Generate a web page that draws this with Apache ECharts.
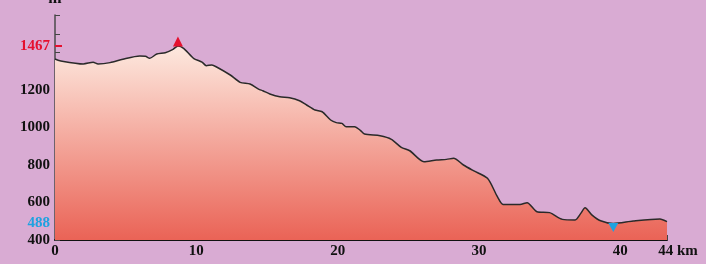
<!DOCTYPE html>
<html>
<head>
<meta charset="utf-8">
<script src="https://cdn.jsdelivr.net/npm/echarts@6/dist/echarts.min.js"></script>
<style>
  html, body { margin: 0; padding: 0; background: #d9abd3; }
  #profile { width: 706px; height: 264px; }
</style>
</head>
<body>
<div id="profile"></div>
<script>
// distance along the route (km) and elevation (m)
const distKm = [0, 0.35, 2.0, 2.7, 3.05, 3.9, 4.8, 6.0, 6.4, 6.7, 7.2, 7.8, 8.35, 8.7, 9.1, 9.8,
  10.4, 10.7, 11.1, 11.4, 12.4, 13.1, 13.8, 14.4, 14.7, 15.2, 15.9, 16.6, 17.3, 17.8, 18.4, 18.9,
  19.5, 19.9, 20.3, 20.6, 21.2, 21.6, 21.9, 23.0, 23.8, 24.5, 25.1, 26.1, 27.0, 27.7, 28.2, 28.9,
  29.6, 30.6, 31.3, 31.7, 32.9, 33.4, 34.1, 35.0, 35.9, 36.8, 37.2, 37.5, 38.0, 38.6, 39.5, 40.9,
  42.8, 43.3];
const elevM = [1365, 1356, 1339, 1348, 1339, 1346, 1364, 1381, 1380, 1369, 1392, 1399, 1417, 1435, 1422, 1369,
  1349, 1330, 1333, 1324, 1280, 1241, 1232, 1205, 1196, 1179, 1164, 1159, 1143, 1120, 1093, 1084,
  1040, 1026, 1022, 1004, 1004, 985, 965, 956, 937, 894, 876, 818, 827, 830, 836, 800,
  770, 729, 631, 590, 590, 599, 551, 546, 510, 507, 542, 572, 533, 503, 488, 501,
  512, 498];

const yLabels = [400, 600, 800, 1000, 1200];
const highLabel = "1467";
const lowLabel = "488";
const totalLabel = "44 km";

const maxElev = Math.max(...elevM);
const minElev = Math.min(...elevM);
const lastKm = distKm[distKm.length - 1];

const font = { fontFamily: "Liberation Serif", fontWeight: "bold", fontSize: 15 };

const chart = echarts.init(document.getElementById("profile"));

const sideAxis = (value, text, color) => ({
  type: "value",
  min: 400,
  max: 1600,
  position: "left",
  axisLine: { show: false },
  splitLine: { show: false },
  axisTick: { show: true, inside: true, length: 7, customValues: [value], lineStyle: { color: color, width: 2 } },
  axisLabel: { customValues: [value], formatter: () => text, color: color, margin: 5, ...font },
});

const option = {
  backgroundColor: "#d9abd3",
  animation: false,
  grid: { left: 55, right: 39, top: 15, bottom: 24, outerBoundsMode: "none", containLabel: false },
  xAxis: {
    type: "value",
    min: 0,
    max: lastKm,
    interval: 10,
    axisLine: { lineStyle: { color: "#111", width: 2 } },
    axisTick: { inside: true, length: 5, lineStyle: { color: "#444" } },
    splitLine: { show: false },
    axisLabel: {
      margin: 4,
      color: "#111",
      ...font,
      formatter: (v) => (v === lastKm ? "{e|" + totalLabel + "}" : String(v)),
      rich: { e: { padding: [0, 0, 0, 22], color: "#111", ...font } },
    },
  },
  yAxis: [
    {
      type: "value",
      min: 400,
      max: 1600,
      interval: 100,
      name: "m",
      nameGap: 8,
      nameTextStyle: { color: "#111", ...font, fontSize: 16 },
      axisLine: { show: true, lineStyle: { color: "#4a4a4a", width: 1.5 } },
      axisTick: { show: true, inside: true, length: 5, lineStyle: { color: "#444" } },
      splitLine: { show: false },
      axisLabel: {
        margin: 5,
        color: "#111",
        ...font,
        formatter: (v) => (yLabels.includes(v) ? String(v) : ""),
      },
    },
    sideAxis(maxElev, highLabel, "#e5102e"),
    sideAxis(minElev, lowLabel, "#1ea2e0"),
  ],
  series: [
    {
      type: "line",
      yAxisIndex: 0,
      data: distKm.map((d, i) => [d, elevM[i]]),
      smooth: 0.25,
      symbol: "none",
      lineStyle: { color: "#2a2a2a", width: 1.5 },
      areaStyle: {
        opacity: 1,
        color: new echarts.graphic.LinearGradient(0, 0, 0, 1, [
          { offset: 0, color: "#fde9df" },
          { offset: 1, color: "#ea6356" },
        ]),
      },
      markPoint: {
        silent: true,
        label: { show: false },
        data: [
          { type: "max", symbol: "triangle", symbolSize: [10, 10], symbolOffset: [0, "-45%"], itemStyle: { color: "#e5102e" } },
          { type: "min", symbol: "path://M0,0L10,0L5,10Z", symbolSize: [10, 9], symbolOffset: [0, "45%"], itemStyle: { color: "#1ea2e0" } },
        ],
      },
    },
  ],
};

chart.setOption(option);
</script>
</body>
</html>
